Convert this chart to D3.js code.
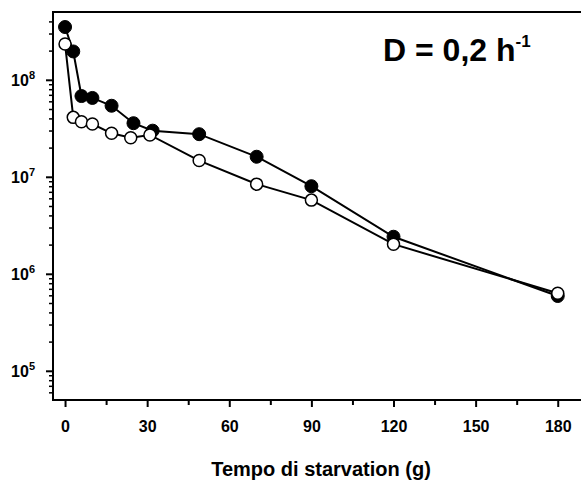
<!DOCTYPE html>
<html>
<head>
<meta charset="utf-8">
<script src="https://cdn.jsdelivr.net/npm/d3@7"></script>
<style>
  html, body { margin: 0; padding: 0; background: #fff; }
  svg { display: block; font-family: "Liberation Sans", Arial, sans-serif; }
</style>
</head>
<body>
<svg id="chart" width="581" height="484"></svg>
<script>
// Data
const filledDays = [0, 3, 6, 10, 17, 25, 32, 49, 70, 90, 120, 180];
const filledValues = [3.5e8, 1.96e8, 6.8e7, 6.5e7, 5.4e7, 3.57e7, 2.99e7, 2.75e7, 1.61e7, 8.0e6, 2.41e6, 5.9e5];
const openDays = [0, 3, 6, 10, 17, 24, 31, 49, 70, 90, 120, 180];
const openValues = [2.34e8, 4.1e7, 3.7e7, 3.5e7, 2.81e7, 2.53e7, 2.7e7, 1.47e7, 8.4e6, 5.75e6, 2.02e6, 6.3e5];
const xTickValues = [0, 30, 60, 90, 120, 150, 180];
const xMinorTickValues = [15, 45, 75, 105, 135, 165];
const yDecades = [5, 6, 7, 8];
const xTitle = "Tempo di starvation (g)";
const annotationMain = "D = 0,2 h";
const annotationSup = "-1";

(function () {
const svg = d3.select("#chart");
const pLeft = 53, pRight = 581, pTop = 12, pBottom = 400;

const x = d3.scaleLinear().domain([-4.4, 188.5]).range([pLeft, pRight]);
const y = d3.scaleLog().domain([5e4, 5e8]).range([pBottom, pTop]);

// Frame
const frame = svg.append("g").attr("stroke", "#000").attr("stroke-width", 2).attr("fill", "none");
frame.append("line").attr("x1", pLeft).attr("x2", pRight).attr("y1", pTop).attr("y2", pTop);
frame.append("line").attr("x1", pLeft).attr("x2", pRight).attr("y1", pBottom).attr("y2", pBottom);
frame.append("line").attr("x1", pLeft).attr("x2", pLeft).attr("y1", pTop - 1).attr("y2", pBottom + 1);

// X axis
const xAxis = d3.axisBottom(x).tickValues(xTickValues).tickSize(7).tickPadding(14).tickFormat(d3.format("d"));
const gx = svg.append("g").attr("transform", `translate(0,${pBottom})`).call(xAxis);
gx.select(".domain").remove();
gx.selectAll(".tick line").attr("stroke-width", 2);
gx.selectAll(".tick text").attr("font-size", 16).attr("font-weight", "bold").attr("fill", "#000")
  .attr("font-family", "Liberation Sans, Arial, sans-serif");
const gxm = svg.append("g").attr("transform", `translate(0,${pBottom})`)
  .call(d3.axisBottom(x).tickValues(xMinorTickValues).tickSize(5).tickFormat(""));
gxm.select(".domain").remove();
gxm.selectAll(".tick line").attr("stroke-width", 2);

// Y axis
const majorY = yDecades.map(e => Math.pow(10, e));
const minorY = [];
[4, 5, 6, 7, 8].forEach(e => {
  for (let k = 2; k <= 9; k++) {
    const v = k * Math.pow(10, e);
    if (v > 5e4 && v < 5e8) minorY.push(v);
  }
});
const gy = svg.append("g").attr("transform", `translate(${pLeft},0)`)
  .call(d3.axisLeft(y).tickValues(majorY).tickSize(7).tickFormat(""));
gy.select(".domain").remove();
gy.selectAll(".tick line").attr("stroke-width", 2);
const gym = svg.append("g").attr("transform", `translate(${pLeft},0)`)
  .call(d3.axisLeft(y).tickValues(minorY).tickSize(4).tickFormat(""));
gym.select(".domain").remove();
gym.selectAll(".tick line").attr("stroke-width", 1.5);

// Y labels 10^n
yDecades.forEach(e => {
  const t = svg.append("text")
    .attr("x", 35).attr("y", y(Math.pow(10, e)) + 6)
    .attr("text-anchor", "end")
    .attr("font-size", 16).attr("font-weight", "bold").attr("fill", "#000");
  t.append("tspan").text("10");
  t.append("tspan").attr("dy", -7).attr("font-size", 11).text(String(e));
});

// Axis title
svg.append("text").attr("x", 321).attr("y", 476).attr("text-anchor", "middle")
  .attr("font-size", 20).attr("font-weight", "bold").attr("fill", "#000").text(xTitle);

// Annotation
const ann = svg.append("text").attr("x", 383).attr("y", 61)
  .attr("font-size", 32).attr("font-weight", "bold").attr("fill", "#000");
ann.append("tspan").text(annotationMain);
ann.append("tspan").attr("dy", -14).attr("font-size", 17).text(annotationSup);

// Lines and markers
const line = d3.line().x(d => x(d[0])).y(d => y(d[1]));
const filled = filledDays.map((d, i) => [d, filledValues[i]]);
const open = openDays.map((d, i) => [d, openValues[i]]);

svg.append("path").datum(filled).attr("d", line).attr("fill", "none").attr("stroke", "#000").attr("stroke-width", 2);
svg.append("path").datum(open).attr("d", line).attr("fill", "none").attr("stroke", "#000").attr("stroke-width", 2);

svg.append("g").selectAll("circle").data(filled).join("circle")
  .attr("cx", d => x(d[0])).attr("cy", d => y(d[1])).attr("r", 6.5)
  .attr("fill", "#000").attr("stroke", "#000").attr("stroke-width", 1);
svg.append("g").selectAll("circle").data(open).join("circle")
  .attr("cx", d => x(d[0])).attr("cy", d => y(d[1])).attr("r", 6)
  .attr("fill", "#fff").attr("stroke", "#000").attr("stroke-width", 1.5);
})();
</script>
</body>
</html>
